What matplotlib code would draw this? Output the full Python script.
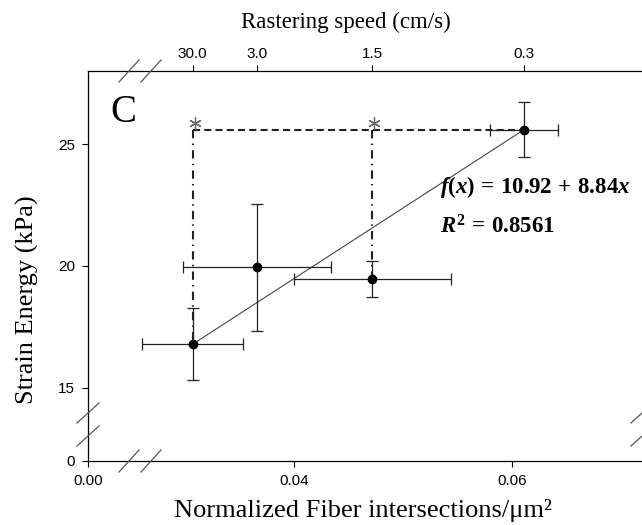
import numpy as np
import matplotlib
matplotlib.use("Agg")
import matplotlib.pyplot as plt
from matplotlib import transforms
from matplotlib.lines import Line2D

# ---------------- data ----------------
fiber = [0.0307, 0.0366, 0.0472, 0.0611]          # normalized fiber intersections / um^2
fiber_err = [0.0046, 0.0068, 0.0072, 0.0031]
energy = [16.78, 19.95, 19.45, 25.59]              # strain energy (kPa)
energy_err = [1.47, 2.61, 0.73, 1.13]
speed_labels = ["30.0", "3.0", "1.5", "0.3"]       # rastering speed (cm/s)
fit_x = [0.0307, 0.0611]
fit_y = [16.78, 25.59]
x_ticks = [0.00, 0.04, 0.06]
x_ticklabels = ["0.00", "0.04", "0.06"]
y_ticks = [0, 15, 20, 25]
y_ticklabels = ["0", "15", "20", "25"]
equation = r"$f(x)\,=\,10.92\,+\,8.84x$"
r2_text = r"$R^2\,=\,0.8561$"

# ---------------- broken-axis scales ----------------
XB, XR = 0.0259, 0.185
YB, YR = 13.5, 0.112

def fx(x):
    x = np.asarray(x, float)
    return np.where(x >= XB, x, XB - (XB - x) * XR)

def fx_inv(t):
    t = np.asarray(t, float)
    return np.where(t >= XB, t, XB - (XB - t) / XR)

def fy(y):
    y = np.asarray(y, float)
    return np.where(y >= YB, y, YB - (YB - y) * YR)

def fy_inv(t):
    t = np.asarray(t, float)
    return np.where(t >= YB, t, YB - (YB - t) / YR)

plt.rcParams["mathtext.fontset"] = "custom"
plt.rcParams["mathtext.rm"] = "Liberation Serif:bold"
plt.rcParams["mathtext.it"] = "Liberation Serif:bold:italic"
plt.rcParams["mathtext.bf"] = "Liberation Serif:bold"

W, H = 642, 525
fig = plt.figure(figsize=(W / 100, H / 100), dpi=100)

L, R, T, B = 88, 645, 71, 461
ax = fig.add_axes([L / W, 1 - B / H, (R - L) / W, (B - T) / H])
ax.set_xscale("function", functions=(fx, fx_inv))
ax.set_yscale("function", functions=(fy, fy_inv))
ax.set_xlim(0, 0.0722)
ax.set_ylim(0, 28)

for s in ax.spines.values():
    s.set_linewidth(0.9)
    s.set_color("black")

ax.set_xticks(x_ticks)
ax.set_xticklabels(x_ticklabels)
ax.set_yticks(y_ticks)
ax.set_yticklabels(y_ticklabels)
ax.minorticks_off()
ax.tick_params(direction="out", length=4.5, width=0.8, labelsize=11, pad=5)
for lab in ax.get_xticklabels() + ax.get_yticklabels():
    lab.set_fontfamily("Liberation Sans")

# top axis
ax2 = ax.twiny()
ax2.set_xscale("function", functions=(fx, fx_inv))
ax2.set_xlim(ax.get_xlim())
ax2.set_xticks(fiber)
ax2.set_xticklabels(speed_labels)
ax2.minorticks_off()
ax2.tick_params(direction="out", length=4, width=0.8, labelsize=11, pad=3)
for lab in ax2.get_xticklabels():
    lab.set_fontfamily("Liberation Sans")
for s in ax2.spines.values():
    s.set_visible(False)

# regression line
ax.plot(fit_x, fit_y, color="#444444", lw=0.8, zorder=2)

# reference lines (significance brackets)
level = energy[3]
ax.plot([fiber[0], fiber[3]], [level, level], color="#222222", lw=1.5,
        linestyle=(0, (3.4, 2.0)), zorder=2)
ax.plot([fiber[0], fiber[0]], [level, energy[0]], color="#222222", lw=1.5,
        linestyle=(0, (4, 2.5, 0.7, 2.5)), zorder=2)
ax.plot([fiber[2], fiber[2]], [level, energy[2]], color="#222222", lw=1.5,
        linestyle=(0, (4, 2.5, 0.7, 2.5)), zorder=2)

# asterisks
star_tr = transforms.offset_copy(ax.transData, fig=fig, x=2, y=7, units="dots")
ax.plot([fiber[0], fiber[2]], [level, level], linestyle="none",
        marker=(6, 2, 0), markersize=9, markeredgewidth=0.9,
        color="#666666", transform=star_tr, zorder=4)

# error bars and points
ax.errorbar(fiber, energy, xerr=fiber_err, yerr=energy_err, fmt="o",
            color="black", ecolor="#222222", elinewidth=0.9, capsize=4,
            capthick=0.9, markersize=6, zorder=5)

# panel letter and equation
fig.text(123 / W, 1 - 112 / H, "C", family="Liberation Serif", fontsize=28,
         ha="center", va="center")
fig.text(440 / W, 1 - 187 / H, equation, fontsize=16.5, ha="left", va="center")
fig.text(440 / W, 1 - 227 / H, r2_text, fontsize=16.5, ha="left", va="center")

# axis titles
fig.text(363 / W, 1 - 511 / H, "Normalized Fiber intersections/\u03bcm\u00b2",
         family="Liberation Serif", fontsize=19, ha="center", va="center")
fig.text(27 / W, 1 - 300 / H, "Strain Energy (kPa)", family="Liberation Serif",
         fontsize=19, rotation=90, ha="center", va="center")
fig.text(346 / W, 1 - 22 / H, "Rastering speed (cm/s)", family="Liberation Serif",
         fontsize=16.5, ha="center", va="center")

# axis-break marks
def slash(cx, cy, w=20, h=22):
    fig.add_artist(Line2D([(cx - w / 2) / W, (cx + w / 2) / W],
                          [1 - (cy + h / 2) / H, 1 - (cy - h / 2) / H],
                          color="#555555", lw=0.9))

for cx in (129, 151):
    slash(cx, T)
    slash(cx, B)
for cy in (413, 436):
    slash(L, cy, 22, 20)
    slash(R - 3, cy, 22, 20)

fig.savefig("out.png", dpi=100)
